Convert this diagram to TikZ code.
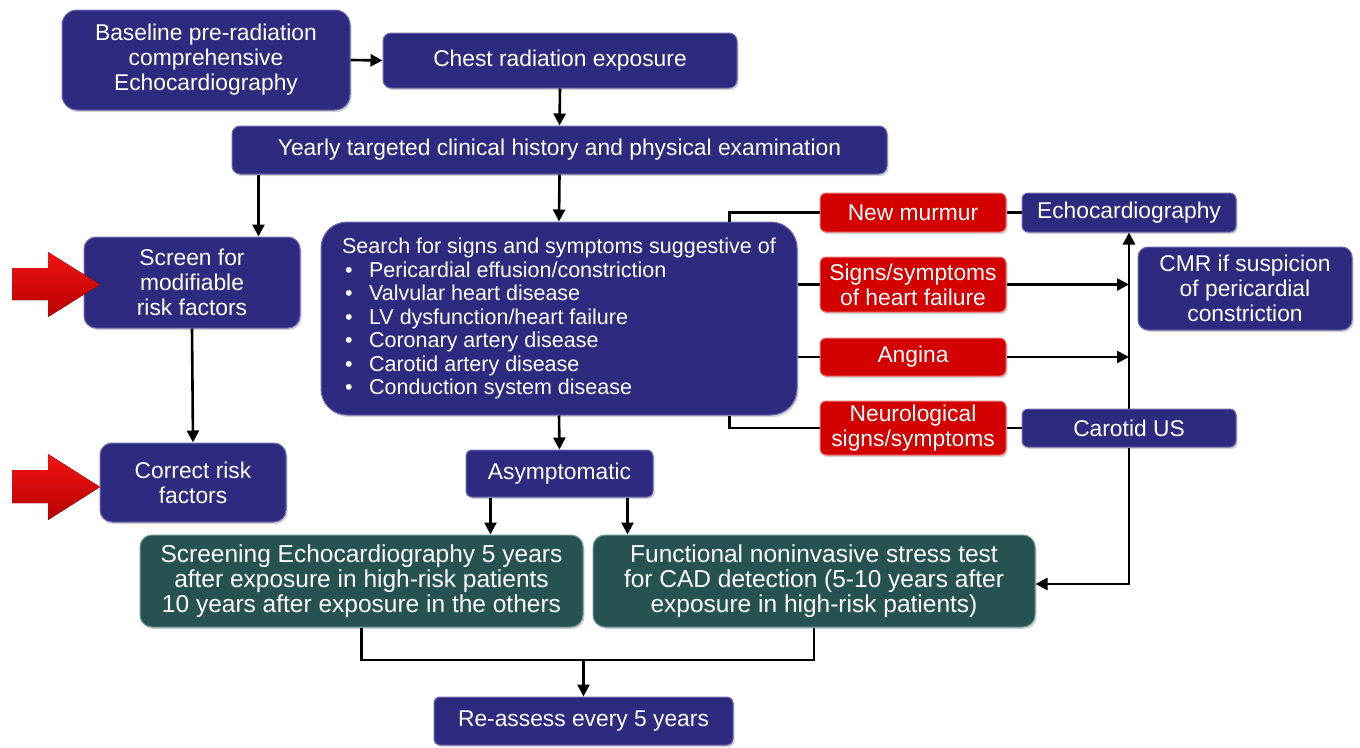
\documentclass[tikz,border=0pt]{standalone}
\usepackage{fontspec}
\setmainfont{Liberation Sans}
\usetikzlibrary{arrows.meta,shadows}
\definecolor{navy}{RGB}{45,42,128}
\definecolor{navyedge}{RGB}{110,108,175}
\definecolor{redbox}{RGB}{212,0,0}
\definecolor{rededge}{RGB}{235,120,120}
\definecolor{tealbox}{RGB}{38,82,82}
\definecolor{tealedge}{RGB}{110,150,150}
\definecolor{arrred}{RGB}{240,20,20}
\definecolor{arrdark}{RGB}{185,0,0}
\begin{document}
\begin{tikzpicture}[x=1pt,y=-1pt,
  box/.style={align=center, text=white, inner sep=2pt, line width=1pt,
    font=\fontsize{22.8}{25}\selectfont,
    drop shadow={opacity=0.35, shadow xshift=1.5pt, shadow yshift=-2pt}},
  nbox/.style={box, fill=navy, draw=navyedge, rounded corners=8pt},
  rbox/.style={box, fill=redbox, draw=rededge, rounded corners=6pt},
  tbox/.style={box, fill=tealbox, draw=tealedge, rounded corners=12pt, font=\fontsize{24.5}{25}\selectfont},
  conn/.style={line width=2.6pt, black},
  arr/.style={conn, -{Triangle[length=12pt,width=12pt]}},
  bigarrow/.style={top color=arrred, bottom color=arrdark, draw=none}
]
\useasboundingbox (0,0) rectangle (1360,747);

% boxes
\node[nbox, minimum width=288pt, minimum height=100pt, rounded corners=15pt] (base) at (206,60) {Baseline pre-radiation\\comprehensive\\Echocardiography};
\node[nbox, minimum width=354pt, minimum height=55pt] (chest) at (560,60.5) {Chest radiation exposure};
\node[nbox, minimum width=655pt, minimum height=48pt] (year) at (559.5,150) {Yearly targeted clinical history and physical examination};
\node[nbox, minimum width=216pt, minimum height=91pt, rounded corners=12pt] (scrn) at (192,282.5) {Screen for\\modifiable\\risk factors};
\node[nbox, minimum width=186pt, minimum height=79pt, rounded corners=12pt] (corr) at (193,482.5) {Correct risk\\factors};
\node[nbox, minimum width=476pt, minimum height=193pt, rounded corners=26pt, align=left, font=\fontsize{21.5}{23.5}\selectfont] (search) at (559,318.5)
 {Search for signs and symptoms suggestive of\\
  \makebox[27pt][l]{\hspace{3pt}•}Pericardial effusion/constriction\\
  \makebox[27pt][l]{\hspace{3pt}•}Valvular heart disease\\
  \makebox[27pt][l]{\hspace{3pt}•}LV dysfunction/heart failure\\
  \makebox[27pt][l]{\hspace{3pt}•}Coronary artery disease\\
  \makebox[27pt][l]{\hspace{3pt}•}Carotid artery disease\\
  \makebox[27pt][l]{\hspace{3pt}•}Conduction system disease};
\node[nbox, minimum width=187pt, minimum height=47pt, rounded corners=6pt] (asy) at (559.5,473.5) {Asymptomatic};
\node[tbox, minimum width=443pt, minimum height=92pt] (scr) at (361.5,581) {Screening Echocardiography 5 years\\after exposure in high-risk patients\\10 years after exposure in the others};
\node[tbox, minimum width=442pt, minimum height=92pt] (func) at (814,581) {Functional noninvasive stress test\\for CAD detection (5-10 years after\\exposure in high-risk patients)};
\node[nbox, minimum width=299pt, minimum height=48pt, rounded corners=6pt] (re) at (583.5,721) {Re-assess every 5 years};

\node[rbox, minimum width=186pt, minimum height=39pt] (nm) at (913,212.5) {New murmur};
\node[nbox, minimum width=214pt, minimum height=39pt, rounded corners=6pt] (echo) at (1129,212.5) {Echocardiography};
\node[rbox, minimum width=186pt, minimum height=55pt] (hf) at (913,284.5) {Signs/symptoms\\of heart failure};
\node[nbox, minimum width=214pt, minimum height=83pt, rounded corners=10pt] (cmr) at (1245,288.5) {CMR if suspicion\\of pericardial\\constriction};
\node[rbox, minimum width=186pt, minimum height=38pt] (ang) at (913,357) {Angina};
\node[rbox, minimum width=186pt, minimum height=54pt] (neu) at (913,428) {Neurological\\signs/symptoms};
\node[nbox, minimum width=214pt, minimum height=38pt, rounded corners=6pt] (cus) at (1129,428) {Carotid US};

% connectors
\draw[arr] (base.east) -- (chest.west);
\draw[arr] (chest.south) -- (year.north);
\draw[arr] ([xshift=27pt]year.south west) -- ([xshift=27pt]year.south west |- scrn.north);
\draw[arr] (year.south) -- (search.north);
\draw[arr] (scrn.south) -- (corr.north);
\draw[arr] (search.south) -- (asy.north);
\draw[arr] ([xshift=-69pt]asy.south) -- ([xshift=-69pt]asy.south |- scr.north);
\draw[arr] ([xshift=68pt]asy.south) -- ([xshift=68pt]asy.south |- func.north);

\draw[conn] (nm.west) -| ([xshift=-68pt]search.north east);
\draw[conn] (neu.west) -| ([xshift=-68pt]search.south east);
\draw[conn] (search.east |- hf.west) -- (hf.west);
\draw[conn] (search.east |- ang.west) -- (ang.west);
\draw[conn] (nm.east) -- (echo.west);
\draw[conn] (neu.east) -- (cus.west);
\draw[arr] (hf.east) -- (hf.east -| echo.south);
\draw[arr] (ang.east) -- (ang.east -| echo.south);
\draw[arr] (cus.north) -- (echo.south);
\draw[arr] (cus.south) |- ([yshift=-3pt]func.east);

\coordinate (j) at (re.north |- 0,660);
\draw[conn] (scr.south) |- (j) -| (func.south);
\draw[arr] (j) -- (re.north);

% red arrows
\fill[bigarrow] (12,268) -- (48,268) -- (48,252) -- (100,284.5) -- (48,317) -- (48,300) -- (12,300) -- cycle;
\fill[bigarrow] (12,470) -- (48,470) -- (48,454) -- (100,487) -- (48,520) -- (48,503) -- (12,503) -- cycle;
\end{tikzpicture}
\end{document}
